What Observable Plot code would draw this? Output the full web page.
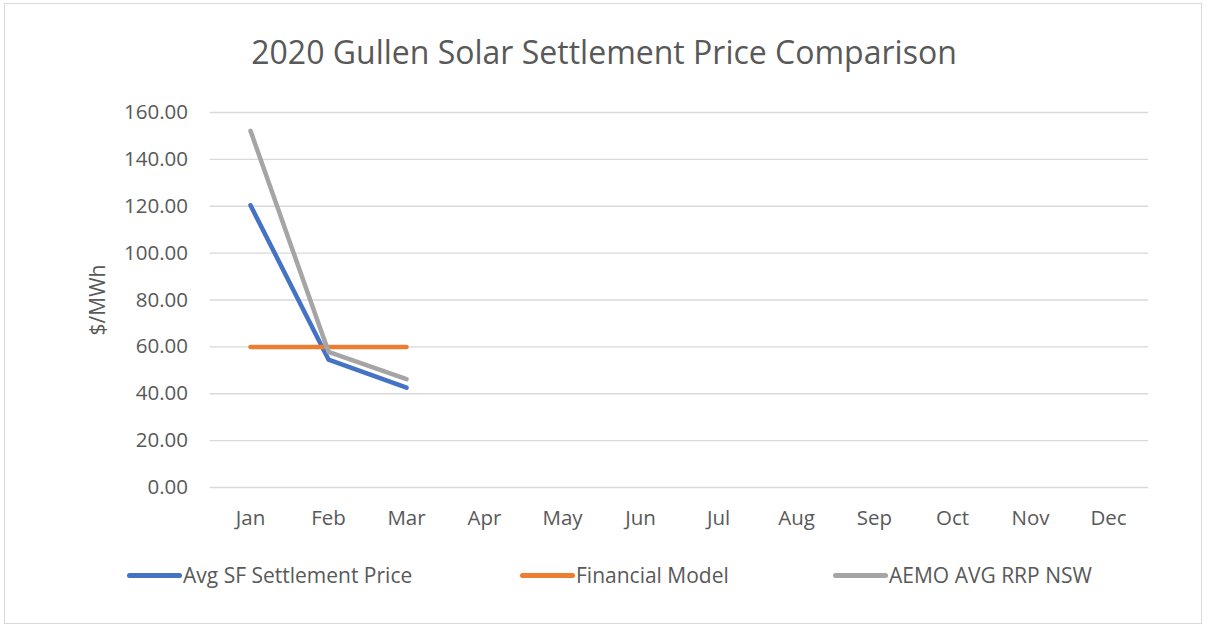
<!DOCTYPE html>
<html>
<head>
<meta charset="utf-8">
<script src="https://cdn.jsdelivr.net/npm/d3@7"></script>
<script src="https://cdn.jsdelivr.net/npm/@observablehq/plot@0.6"></script>
<style>
  html, body { margin: 0; padding: 0; background: #fff; }
  #chart { position: relative; width: 1208px; height: 628px; overflow: hidden; font-family: 'Open Sans', sans-serif; color: #595959; }
  #frame { position: absolute; left: 4px; top: 3px; width: 1198px; height: 621px; border: 1px solid #d9d9d9; box-sizing: border-box; }
  #title { position: absolute; left: 0; width: 1208px; top: 30px; text-align: center; font-size: 32px; line-height: 44px; color: #595959; }
  #plot { position: absolute; left: 0; top: 90px; }
  .legend-item { position: absolute; top: 561px; display: flex; align-items: center; font-size: 21px; line-height: 28px; color: #595959; }
  .swatch { width: 55px; height: 5px; border-radius: 3px; margin-right: 1px; }
</style>
</head>
<body>
<div id="chart">
  <div id="frame"></div>
  <div id="title">2020 Gullen Solar Settlement Price Comparison</div>
  <div id="plot"></div>
</div>
<script>
const months = ["Jan", "Feb", "Mar", "Apr", "May", "Jun", "Jul", "Aug", "Sep", "Oct", "Nov", "Dec"];
const seriesNames = ["Avg SF Settlement Price", "Financial Model", "AEMO AVG RRP NSW"];
const seriesColors = ["#4472C4", "#ED7D31", "#A5A5A5"];
const avgSF = [120.4, 54.6, 42.6];
const financialModel = [60.0, 60.0, 60.0];
const aemoRRP = [152.2, 57.9, 46.2];
const yTicks = [0, 20, 40, 60, 80, 100, 120, 140, 160];
const yLabel = "$/MWh";
const legendLeft = [127, 520, 833];

const seriesValues = [avgSF, financialModel, aemoRRP];
const rows = [];
seriesValues.forEach((vals, si) => {
  vals.forEach((v, i) => rows.push({series: seriesNames[si], month: months[i], value: v}));
});

const plot = Plot.plot({
  width: 1208,
  height: 450,
  marginLeft: 209.5,
  marginRight: 60,
  marginTop: 22,
  marginBottom: 53,
  style: {fontFamily: "'Open Sans', sans-serif", fontSize: "20.5px", color: "#595959", background: "transparent"},
  x: {type: "point", domain: months, padding: 0.5},
  y: {domain: [0, 160]},
  color: {domain: seriesNames, range: seriesColors},
  marks: [
    Plot.gridY(yTicks, {stroke: "#d9d9d9", strokeOpacity: 1, strokeWidth: 1.3}),
    Plot.axisX({tickSize: 0, tickPadding: 23, label: null, fill: "#595959"}),
    Plot.axisY(yTicks, {tickSize: 0, tickPadding: 22, tickFormat: d => d.toFixed(2), label: null, fill: "#595959"}),
    Plot.text([yLabel], {frameAnchor: "left", textAnchor: "middle", dx: -112, rotate: -90, fontSize: 21, fill: "#595959", text: d => d}),
    ...seriesNames.map(name => Plot.line(rows.filter(r => r.series === name), {
      x: "month", y: "value", stroke: "series", strokeWidth: 4.5, strokeLinecap: "round", strokeLinejoin: "round"
    }))
  ]
});
document.getElementById("plot").appendChild(plot);

const chart = document.getElementById("chart");
seriesNames.forEach((name, i) => {
  const item = document.createElement("div");
  item.className = "legend-item";
  item.style.left = legendLeft[i] + "px";
  const sw = document.createElement("div");
  sw.className = "swatch";
  sw.style.background = seriesColors[i];
  const label = document.createElement("span");
  label.textContent = name;
  item.appendChild(sw);
  item.appendChild(label);
  chart.appendChild(item);
});
</script>
</body>
</html>
